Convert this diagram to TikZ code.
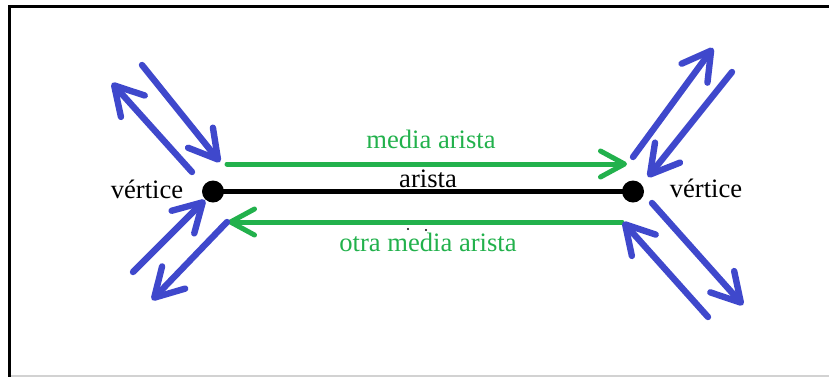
\documentclass[tikz,border=0pt]{standalone}
\usepackage{fontspec}
\setmainfont{Liberation Serif}
\usetikzlibrary{arrows.meta}
\definecolor{EdgeGreen}{RGB}{34,177,76}
\definecolor{HalfBlue}{RGB}{63,72,204}
\tikzset{
  vertexdot/.style={circle,fill=black,inner sep=0pt,minimum size=11pt},
  edgeline/.style={line width=2.5pt,draw=black},
  halfedge/.style={-{Straight Barb[length=12pt,width=13pt,round]},
    line width=2.5pt,draw=EdgeGreen,line cap=round},
  otheredge/.style={-{Straight Barb[length=14pt,width=16pt,round]},
    line width=3.2pt,draw=HalfBlue,line cap=round},
  lbl/.style={font=\fontsize{13.3}{16}\selectfont,inner sep=0pt,anchor=base},
}

\begin{document}
\begin{tikzpicture}[x=0.5pt,y=-0.5pt]
\useasboundingbox (0,0) rectangle (829,377);
% frame
\draw[line width=1.5pt] (829,6.5) -- (9.5,6.5) -- (9.5,377);
\draw[gray!35,line width=1pt] (11,376) -- (829,376);

% the edge and its two end vertices
\node[vertexdot] (u) at (213,191.5) {};
\node[vertexdot] (v) at (633,191.5) {};
\draw[edgeline] (u.center) -- (v.center);
\node[lbl] (elbl) at (428,187) {arista};
\node[lbl] (ulbl) at (147,198) {vértice};
\node[lbl] (vlbl) at (706,197) {vértice};

% half edges
\coordinate (h1a) at (227,164);
\coordinate (h1b) at (627,164);
\coordinate (h2a) at (622,222);
\coordinate (h2b) at (228,222);
\draw[halfedge] (h1a) -- (h1b);
\draw[halfedge] (h2a) -- (h2b);
\node[lbl,text=EdgeGreen] (hlbl) at (431,148) {media arista};
\node[lbl,text=EdgeGreen] (olbl) at (428,251) {otra media arista};
\fill (408,229) circle (1.2);
\fill (426,230) circle (1.2);

% half edges of the neighbouring edges
\coordinate (l1a) at (192,172);  \coordinate (l1b) at (112,83);
\coordinate (l2a) at (142,65);   \coordinate (l2b) at (220,162);
\coordinate (l3a) at (133,272);  \coordinate (l3b) at (205,200);
\coordinate (l4a) at (227,222);  \coordinate (l4b) at (152,300);
\coordinate (r1a) at (633,157);  \coordinate (r1b) at (713,48);
\coordinate (r2a) at (732,72);   \coordinate (r2b) at (648,177);
\coordinate (r3a) at (652,203);  \coordinate (r3b) at (743,305);
\coordinate (r4a) at (708,317);  \coordinate (r4b) at (623,222);
\draw[otheredge] (l1a) -- (l1b);
\draw[otheredge] (l2a) -- (l2b);
\draw[otheredge] (l3a) -- (l3b);
\draw[otheredge] (l4a) -- (l4b);
\draw[otheredge] (r1a) -- (r1b);
\draw[otheredge] (r2a) -- (r2b);
\draw[otheredge] (r3a) -- (r3b);
\draw[otheredge] (r4a) -- (r4b);
\end{tikzpicture}
\end{document}
